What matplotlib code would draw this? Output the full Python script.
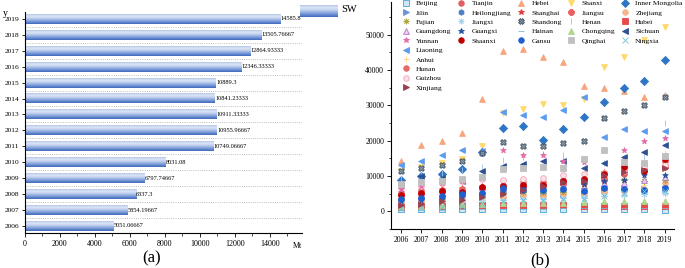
import numpy as np
import matplotlib
matplotlib.use('Agg')
import matplotlib.pyplot as plt
from matplotlib.colors import LinearSegmentedColormap
from matplotlib.lines import Line2D

plt.rcParams['font.family'] = ['Liberation Serif', 'DejaVu Serif']

# ---- data: panel (a), SW average by year
years_a = [2006, 2007, 2008, 2009, 2010, 2011, 2012, 2013, 2014, 2015, 2016, 2017, 2018, 2019]
sw_vals = [5051.06667, 5854.19667, 6337.3, 6797.74667, 8031.08, 10749.06667, 10955.96667,
           10911.33333, 10841.23333, 10889.3, 12346.33333, 12864.93333, 13505.76667, 14585.8]
sw_labels = ['5051.06667', '5854.19667', '6337.3', '6797.74667', '8031.08', '10749.06667', '10955.96667',
             '10911.33333', '10841.23333', '10889.3', '12346.33333', '12864.93333', '13505.76667', '14585.8']

# ---- data: panel (b), provinces by year
years_b = list(range(2006, 2020))
beijing = [600, 650, 700, 700, 750, 700, 700, 650, 650, 600, 600, 550, 550, 500]
tianjin = [4500, 4900, 5400, 5700, 6300, 6800, 7000, 7300, 7800, 8500, 9400, 10600, 11800, 12600]
hebei = [14400, 18900, 19900, 22100, 31800, 45400, 45900, 43600, 42300, 35600, 34900, 34200, 32300, 33000]
shanxi = [11400, 12600, 13800, 14900, 18400, 27800, 28900, 30400, 30100, 31700, 40800, 43600, 48500, 52100]
inner_mongolia = [8800, 9900, 10700, 12100, 16900, 23500, 24300, 20100, 23300, 26700, 31000, 34900, 36800, 42800]
liaoning = [13100, 14400, 16100, 17300, 17200, 28200, 27300, 26800, 28700, 32500, 21000, 23400, 22700, 22700]
jilin = [2600, 3000, 3300, 3700, 4300, 5400, 5000, 4900, 5000, 5300, 6000, 6500, 6300, 6300]
heilongjiang = [3200, 3600, 3900, 4300, 5000, 6000, 5800, 5500, 5900, 5800, 6300, 6000, 5900, 6800]
shanghai = [5600, 6000, 6300, 6600, 7300, 8500, 8200, 8000, 7500, 7600, 11200, 12100, 11900, 13800]
jiangsu = [5000, 5500, 6100, 6400, 6800, 7500, 8000, 8300, 8800, 9300, 10800, 13100, 13300, 14200]
zhejiang = [2400, 2800, 3100, 3500, 3800, 4200, 4600, 4400, 4800, 4700, 5500, 5900, 6300, 8000]
anhui = [1800, 2300, 2700, 3000, 3600, 4300, 4900, 5100, 5300, 5900, 6400, 6800, 7400, 16400]
fujian = [3800, 4100, 4500, 4900, 5300, 5100, 5400, 5200, 5500, 6500, 7300, 8800, 8500, 9000]
jiangxi = [1900, 2100, 2400, 2700, 3100, 3300, 3400, 3500, 3700, 3900, 4300, 4600, 4900, 5100]
shandong = [11300, 12200, 13100, 14300, 16400, 19700, 18500, 18400, 19400, 19800, 26400, 28500, 30100, 32300]
henan = [9500, 10200, 10800, 11800, 12500, 14600, 15400, 16300, 16000, 14500, 13700, 15000, 15400, 25100]
hubei = [1300, 1400, 1500, 1600, 1700, 1800, 1800, 1700, 1700, 1600, 1600, 1600, 1600, 1600]
hunan = [5200, 5700, 5900, 6100, 6700, 7000, 7200, 7600, 8000, 8300, 9000, 11500, 11500, 12800]
guangdong = [4300, 4800, 5300, 5600, 6000, 6300, 6800, 7000, 7300, 7000, 7900, 8100, 8800, 9600]
guangxi = [2800, 3200, 3600, 4200, 4800, 5800, 6500, 6300, 6600, 7800, 8500, 9000, 10400, 10400]
hainan = [400, 450, 500, 550, 600, 700, 750, 800, 850, 900, 950, 950, 1000, 1050]
chongqing = [1400, 1600, 1800, 2000, 2200, 2300, 2400, 2400, 2500, 2600, 2800, 2800, 2800, 2800]
sichuan = [7600, 10000, 9500, 8600, 11300, 12900, 13400, 14200, 14300, 12400, 13800, 15400, 16900, 18800]
guizhou = [6800, 7300, 8000, 8700, 9300, 9000, 9300, 9500, 10300, 10500, 11000, 11500, 12800, 13200]
yunnan = [6300, 7100, 8100, 8700, 9400, 17400, 16000, 16000, 14400, 14000, 17400, 17400, 19800, 20900]
shaanxi = [4700, 5300, 5800, 5500, 6900, 7100, 7400, 7600, 8600, 9200, 10500, 12700, 11300, 14700]
gansu = [3500, 3900, 4300, 4800, 5300, 6600, 6100, 6100, 6400, 5800, 6600, 6200, 6100, 6600]
qinghai = [7800, 8200, 8700, 9300, 9800, 11900, 12200, 12500, 12300, 14800, 17500, 14100, 13800, 15600]
ningxia = [900, 1100, 1300, 1600, 2200, 3000, 3100, 3300, 3400, 3600, 4400, 5300, 5700, 5800]
xinjiang = [1700, 2200, 2800, 3300, 4000, 5000, 6000, 7200, 8300, 8600, 10300, 11100, 11600, 12200]

# name, values, marker, face colour, edge colour
series = [
    ('Beijing', beijing, 's', '#cfe6f5', '#4aa3d0'),
    ('Tianjin', tianjin, 'o', '#e06060', '#e06060'),
    ('Hebei', hebei, '^', '#f8a47c', '#f8a47c'),
    ('Shanxi', shanxi, 'v', '#ffd96a', '#ffd96a'),
    ('Inner Mongolia', inner_mongolia, 'D', '#2e75c6', '#2e75c6'),
    ('Liaoning', liaoning, '<', '#5b9bf0', '#5b9bf0'),
    ('Jilin', jilin, '>', '#6a94dc', '#6a94dc'),
    ('Heilongjiang', heilongjiang, 'h', '#4f7fc0', '#4f7fc0'),
    ('Shanghai', shanghai, '*', '#e03535', '#e03535'),
    ('Jiangsu', jiangsu, '8', '#e86060', '#e86060'),
    ('Zhejiang', zhejiang, 'o', '#f6b489', '#f6b489'),
    ('Anhui', anhui, '+', '#ffd27f', '#ffd27f'),
    ('Fujian', fujian, (8, 2, 0), '#b0a640', '#b0a640'),
    ('Jiangxi', jiangxi, (8, 2, 0), '#a8d2ee', '#a8d2ee'),
    ('Shandong', shandong, 'X', '#8b9aa8', '#3f4f60'),
    ('Henan', henan, '|', '#9dc3e6', '#9dc3e6'),
    ('Hubei', hubei, 's', '#e84a4a', '#e84a4a'),
    ('Hunan', hunan, 'o', '#e46a6a', '#e46a6a'),
    ('Guangdong', guangdong, '^', '#e8cdf0', '#b27acb'),
    ('Guangxi', guangxi, '*', '#23509f', '#23509f'),
    ('Hainan', hainan, '_', '#7fb8dc', '#7fb8dc'),
    ('Chongqing', chongqing, '^', '#b0d690', '#b0d690'),
    ('Sichuan', sichuan, '<', '#2f5090', '#2f5090'),
    ('Guizhou', guizhou, 'o', '#fbe0e6', '#f2a6b8'),
    ('Yunnan', yunnan, '*', '#e36aa9', '#e36aa9'),
    ('Shaanxi', shaanxi, 'o', '#c00000', '#c00000'),
    ('Gansu', gansu, 'o', '#1f60d0', '#1f60d0'),
    ('Qinghai', qinghai, 's', '#c0c0c0', '#c0c0c0'),
    ('Ningxia', ningxia, 'x', '#6cc4d4', '#6cc4d4'),
    ('Xinjiang', xinjiang, '>', '#9b4050', '#9b4050'),
]

fig = plt.figure(figsize=(6.85, 2.68), dpi=100)

# ================= panel (a)
ax1 = fig.add_axes([0.0358, 0.1295, 0.4046, 0.8268])
cmap = LinearSegmentedColormap.from_list(
    'bar', [(0.0, '#3d68be'), (0.3, '#7f9fdb'), (0.6, '#c5d4ef'), (0.8, '#dce5f5'), (1.0, '#b3c6ea')])
grad = np.linspace(0, 1, 64).reshape(-1, 1)
bar_h = 0.62
ypos = np.arange(len(years_a))
for y, v, lab in zip(ypos, sw_vals, sw_labels):
    ax1.imshow(grad, extent=[0, v, y - bar_h / 2, y + bar_h / 2], origin='lower',
               aspect='auto', cmap=cmap, zorder=2, interpolation='bilinear')
    ax1.text(v + 40, y, lab, fontsize=4.6, va='center', ha='left', zorder=3)
ax1.set_xlim(0, 15820)
ax1.set_ylim(-0.46, 13.45)
ax1.set_yticks(ypos)
ax1.set_yticklabels([str(y) for y in years_a], fontsize=5.3)
ax1.set_yticks(ypos[:-1] + 0.5, minor=True)
ax1.grid(which='minor', axis='y', linestyle=':', color='#a8a8a8', linewidth=0.6, zorder=0)
ax1.set_xticks(np.arange(0, 14001, 2000))
ax1.set_xticklabels([str(x) for x in range(0, 14001, 2000)], fontsize=5.8)
ax1.set_xticks(np.arange(1000, 15001, 1000), minor=True)
ax1.tick_params(axis='x', which='major', direction='out', length=3, width=0.6, pad=2)
ax1.tick_params(axis='x', which='minor', direction='out', length=1.8, width=0.5)
ax1.tick_params(axis='y', which='major', direction='out', length=2, width=0.6, pad=1.5)
ax1.tick_params(axis='y', which='minor', length=0)
for s in ['top', 'right']:
    ax1.spines[s].set_visible(False)
for s in ['left', 'bottom']:
    ax1.spines[s].set_linewidth(0.8)
ax1.text(15570, -1.01, 'Mt', fontsize=5.8, ha='center', va='top')
fig.text(3 / 685, 1 - 13 / 268, 'y', fontsize=7, ha='left', va='center')

# legend "SW" with gradient swatch
lax = fig.add_axes([300 / 685, 1 - 17 / 268, 37 / 685, 12 / 268])
lax.imshow(grad, origin='lower', aspect='auto', cmap=cmap, extent=[0, 1, 0, 1])
lax.axis('off')
fig.text(341 / 685, 1 - 10 / 268, 'SW', fontsize=7.5, ha='left', va='center')
fig.text(152 / 685, 1 - 258 / 268, '(a)', fontsize=12, ha='center', va='center')

# ================= panel (b)
ax2 = fig.add_axes([0.5708, 0.1455, 0.413, 0.847])
for name, vals, mk, fc, ec in series:
    ax2.scatter(years_b, vals, marker=mk, s=17, facecolor=fc, edgecolor=ec,
                linewidths=0.6, zorder=3)
ax2.set_xlim(2005.5, 2019.45)
ax2.set_ylim(-5000, 59300)
ax2.set_xticks(years_b)
ax2.set_xticklabels([str(y) for y in years_b], fontsize=5.6)
ax2.set_yticks(np.arange(0, 50001, 10000))
ax2.set_yticklabels([str(v) for v in range(0, 50001, 10000)], fontsize=5.5)
ax2.set_yticks(np.arange(-5000, 59001, 5000), minor=True)
ax2.tick_params(axis='both', which='major', direction='out', length=3, width=0.6, pad=2)
ax2.tick_params(axis='y', which='minor', direction='out', length=1.8, width=0.5)
for s in ['top', 'right']:
    ax2.spines[s].set_visible(False)
for s in ['left', 'bottom']:
    ax2.spines[s].set_linewidth(0.8)

# legend laid out in 5 columns: first column 10 entries, others 5
hmap = {}
for name, vals, mk, fc, ec in series:
    hmap[name] = Line2D([], [], linestyle='', marker=mk, markersize=4,
                        markerfacecolor=fc, markeredgecolor=ec, markeredgewidth=0.6)
cols = [
    ['Beijing', 'Jilin', 'Fujian', 'Guangdong', 'Yunnan', 'Liaoning', 'Anhui', 'Hunan', 'Guizhou', 'Xinjiang'],
    ['Tianjin', 'Heilongjiang', 'Jiangxi', 'Guangxi', 'Shaanxi'],
    ['Hebei', 'Shanghai', 'Shandong', 'Hainan', 'Gansu'],
    ['Shanxi', 'Jiangsu', 'Henan', 'Chongqing', 'Qinghai'],
    ['Inner Mongolia', 'Zhejiang', 'Hubei', 'Sichuan', 'Ningxia'],
]
handles, labels = [], []
for c in cols:
    for i in range(10):
        if i < len(c):
            handles.append(hmap[c[i]])
            labels.append(c[i])
        else:
            handles.append(Line2D([], [], linestyle='', marker=''))
            labels.append('')
fig.legend(handles, labels, ncol=5, loc='upper left', bbox_to_anchor=(400.5 / 685, 1.0),
           frameon=False, fontsize=5.4, handlelength=1.4, handletextpad=0.7,
           columnspacing=0.55, labelspacing=0.42, borderpad=0, borderaxespad=0)

fig.text(540 / 685, 1 - 260 / 268, '(b)', fontsize=12, ha='center', va='center')

fig.savefig('out.png', dpi=100)
